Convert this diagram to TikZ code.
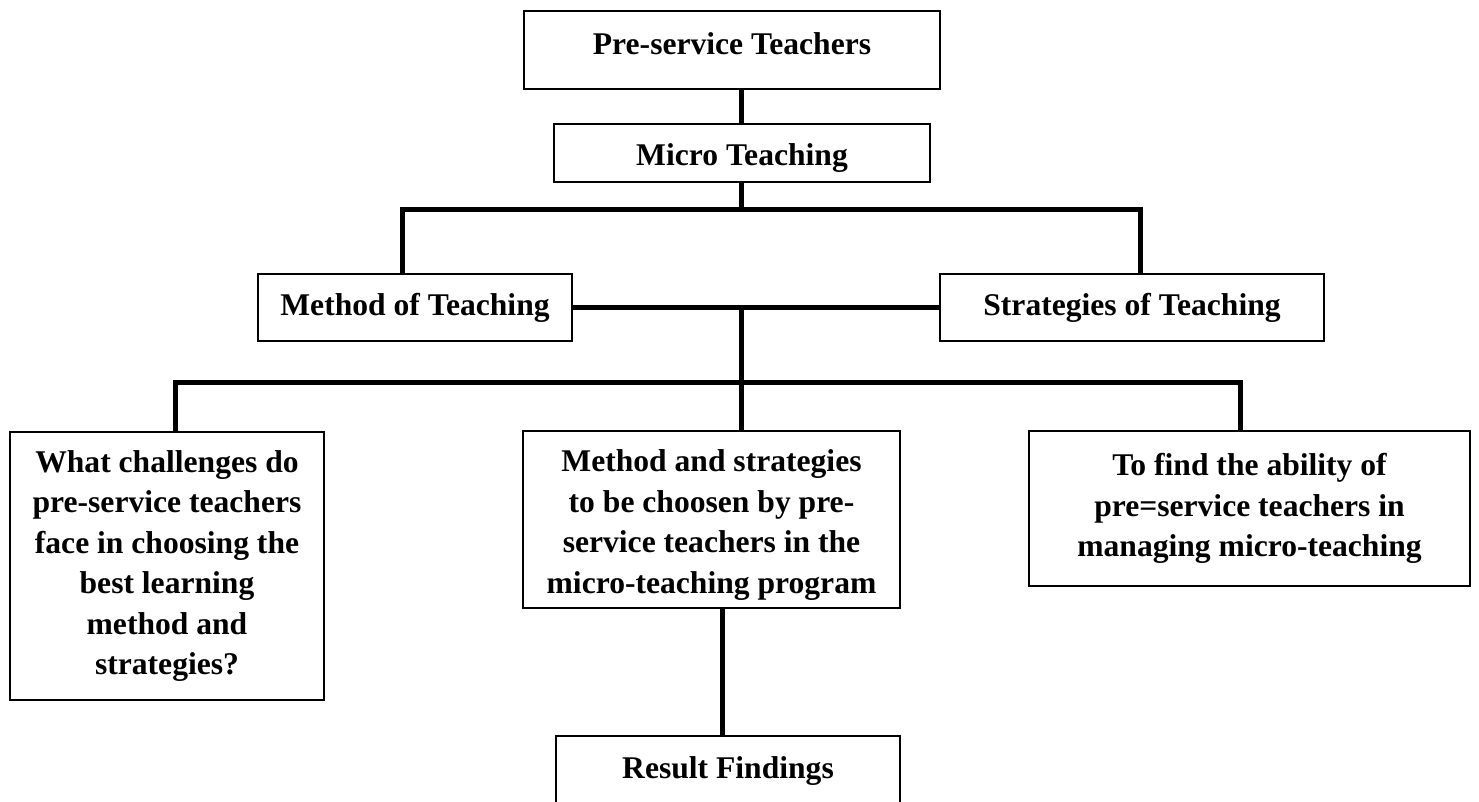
\documentclass[tikz,border=0pt]{standalone}
\usepackage{fontspec}
\setmainfont{Liberation Serif}
\newcommand{\lift}[2]{\raisebox{#1}[\height][\depth]{#2}}
\begin{document}
\begin{tikzpicture}[x=1pt, y=-1pt,
		box/.style={draw, line width=1.2pt, inner sep=0pt, align=center, font=\fontsize{31.6}{40.5}\selectfont\bfseries},
		link/.style={line width=5pt, line join=miter}]
	\clip (0,0) rectangle (1479,802);
	% boxes
	\node[box, minimum width=416, minimum height=78] (pre) at (732,50) {\lift{6pt}{Pre-service Teachers}};
	\node[box, minimum width=376, minimum height=58] (micro) at (742,153) {\lift{-5pt}{Micro Teaching}};
	\node[box, minimum width=314, minimum height=67] (method) at (415,307.5) {Method of Teaching};
	\node[box, minimum width=384, minimum height=67] (strat) at (1132,307.5) {Strategies of Teaching};
	\node[box, minimum width=314, minimum height=268] (chal) at (167,566) {What challenges do\\pre-service teachers\\face in choosing the\\best learning\\method and\\strategies?};
	\node[box, minimum width=377, minimum height=177] (choose) at (711.5,519.5) {\lift{-5pt}{\begin{tabular}{@{}c@{}}Method and strategies\\to be choosen by pre-\\service teachers in the\\micro-teaching program\end{tabular}}};
	\node[box, minimum width=441, minimum height=155] (ability) at (1249.5,508.5) {To find the ability of\\pre=service teachers in\\managing micro-teaching};
	\node[box, minimum width=344, minimum height=78] (result) at (728,775) {\lift{4pt}{Result Findings}};
	% bars
	\coordinate (bar1l) at (402,210);
	\coordinate (bar1r) at (1140,210);
	\coordinate (bar2l) at (175,382);
	\coordinate (bar2m) at (741,382);
	\coordinate (bar2r) at (1240,382);
	\coordinate (hub) at (741,307.5);
	\coordinate (drop) at (722,608);
	% connectors
	\draw[link] (pre.south -| bar2m) -- (micro.north -| bar2m);
	\draw[link] (micro.south -| bar2m) -- (bar2m |- bar1l);
	\draw[link] (bar1l |- method.north) -- (bar1l) -- (bar1r) -- (bar1r |- strat.north);
	\draw[link] (method.east) -- (strat.west);
	\draw[link] (hub) -- (bar2m);
	\draw[link] (bar2l |- chal.north) -- (bar2l) -- (bar2r) -- (bar2r |- ability.north);
	\draw[link] (bar2m) -- (bar2m |- choose.north);
	\draw[link] (drop |- choose.south) -- (drop |- result.north);
\end{tikzpicture}
\end{document}
